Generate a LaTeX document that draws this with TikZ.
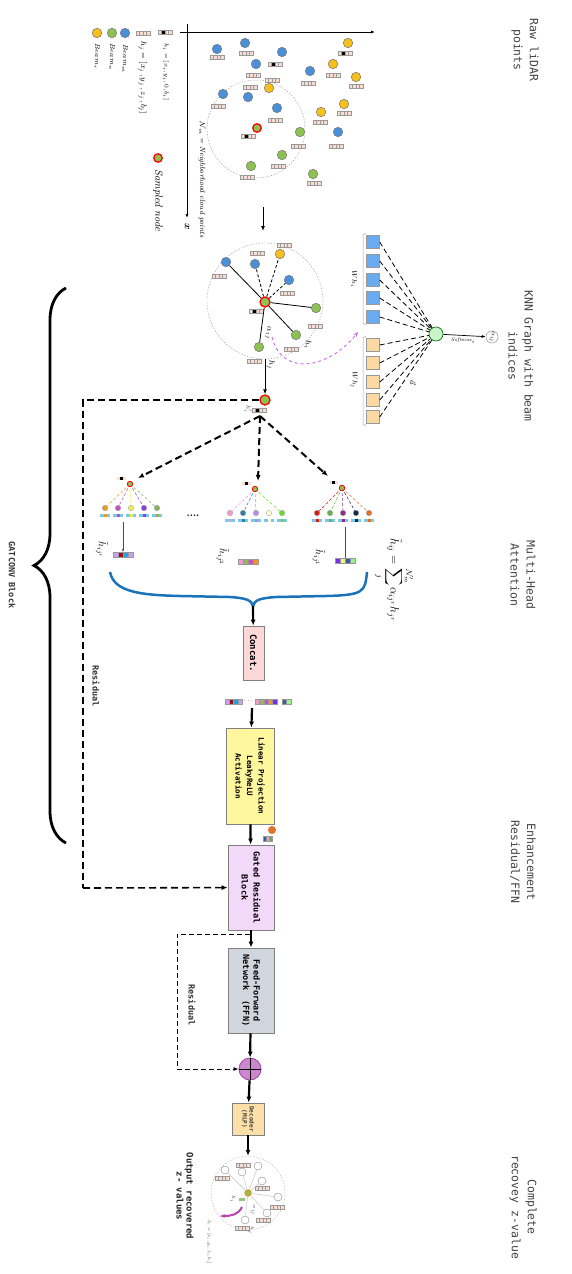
\documentclass[tikz,border=0pt]{standalone}
\usepackage{amsmath}
\usepackage{amssymb}
\usepackage{fontspec}
\newfontfamily\labelfont{DejaVu Sans Mono}
\usetikzlibrary{arrows,arrows.meta,decorations.pathreplacing,calc,positioning}
\definecolor{beamm}{HTML}{4A90D9}
\definecolor{beamn}{HTML}{8DC153}
\definecolor{beamr}{HTML}{F6BF1C}
\definecolor{featpink}{HTML}{F9DDD3}
\definecolor{colblue}{HTML}{6AAAF0}
\definecolor{colorange}{HTML}{FCD9A2}
\definecolor{bracecol}{HTML}{1A72BB}
\definecolor{concatcol}{HTML}{FDD8D8}
\definecolor{linprojcol}{HTML}{FFF79E}
\definecolor{gatedcol}{HTML}{F3D9F9}
\definecolor{ffncol}{HTML}{D1D6DE}
\definecolor{decodcol}{HTML}{FDE0A8}
\definecolor{pluscol}{HTML}{CC88CC}
\definecolor{sidegray}{HTML}{444444}
\definecolor{curvecol}{HTML}{CC66EE}
\definecolor{attcol}{HTML}{C8F5C8}
\definecolor{lav}{HTML}{C9A0F0}
\definecolor{dred}{HTML}{A0101A}
\definecolor{skyb}{HTML}{1FA3E0}
\definecolor{pinkc}{HTML}{F29AD0}
\definecolor{olive}{HTML}{9AB56A}
\definecolor{magc}{HTML}{C94FC9}
\definecolor{orng}{HTML}{F0961F}
\definecolor{viol}{HTML}{7A2CF0}
\definecolor{ylw}{HTML}{F5F07A}
\definecolor{dblue}{HTML}{2C5FA6}
\definecolor{lgreen}{HTML}{9AF08A}
\definecolor{tealc}{HTML}{2A7FA6}
\definecolor{navy}{HTML}{14284A}
\definecolor{redc}{HTML}{D91A1A}
\definecolor{grnc}{HTML}{6DAF4C}
\definecolor{purc}{HTML}{8E2C8E}
\definecolor{orc}{HTML}{E0702A}
\definecolor{yel}{HTML}{EEEE55}
\definecolor{purb}{HTML}{8A3FDB}
\definecolor{olvb}{HTML}{8BAF5A}
\definecolor{orca}{HTML}{E69A1F}
\definecolor{palec}{HTML}{FFFFD0}
\definecolor{lgrb}{HTML}{6CDB2A}
\definecolor{lavb}{HTML}{B98CEB}
\tikzset{
  pt/.style={circle,draw=black!55,line width=0.5pt,inner sep=0pt,minimum size=9.5pt},
  sampled/.style={circle,draw=red,fill=beamn,line width=1.3pt,inner sep=0pt,minimum size=8.5pt},
  blockbox/.style={draw=black!50,line width=0.8pt,rotate=-90,align=center,inner sep=1pt,font=\labelfont\bfseries},
  sidelabel/.style={rotate=-90,align=center,text=sidegray,font=\labelfont\fontsize{11.5}{16}\selectfont},
  flow/.style={-{Latex[length=6pt,width=5pt]},line width=2.2pt},
  thinflow/.style={-{Latex[length=5pt,width=4pt]},line width=1pt},
  resline/.style={line width=1.6pt,dash pattern=on 7pt off 4pt},
  headarrow/.style={-{Latex[length=6pt,width=5pt]},line width=2pt,dash pattern=on 7pt off 4pt},
  sq/.style={draw=black!40,line width=0.4pt,inner sep=0pt,minimum size=13pt},
  attdash/.style={line width=0.8pt,dash pattern=on 5pt off 3pt},
  tinylab/.style={rotate=-90,font=\fontsize{5}{6}\selectfont,text=black!70},
  smallmath/.style={rotate=-90,font=\fontsize{8}{9}\selectfont},
}
\newcommand{\featbox}[3][featpink]{%
  \fill[featpink] ({#2-7},{#3-2}) rectangle ++(14,4);
  \fill[#1] ({#2-3.5},{#3-2}) rectangle ++(3.5,4);
  \foreach \k in {0,...,3}{\draw[black!40,line width=0.3pt] ({#2-7+3.5*\k},{#3-2}) rectangle ++(3.5,4);}
}
\newcommand{\colvec}[4]{%
  \foreach \c [count=\k from 0] in {#4}{\draw[black!40,line width=0.25pt,fill=\c] ({#1+#3*\k},{#2-2.5}) rectangle ++(#3,5);}
}
\newcommand{\headtree}[6]{%
  \foreach \c [count=\k from 0] in {#6}{
    \draw[\c,densely dashed,line width=0.5pt] (#2,#3) -- ({#4+13*\k},#5);
    \node[circle,fill=\c,draw=black!40,line width=0.3pt,inner sep=0pt,minimum size=5.5pt] (#1c\k) at ({#4+13*\k},#5) {};
    \fill[skyb!60] ({#4+13*\k-5},{#5+6}) rectangle ++(10,3);
    \fill[\c] ({#4+13*\k-1.5},{#5+6}) rectangle ++(3,3);
  }
  \node[circle,fill=beamn,draw=red,line width=0.8pt,inner sep=0pt,minimum size=5.5pt] (#1) at (#2,#3) {};
  \fill[featpink] ({#2-13},{#3-7}) rectangle ++(9,3);
  \fill[black] ({#2-10},{#3-7}) rectangle ++(3,3);
}

\begin{document}
\begin{tikzpicture}[x=1pt,y=-1pt]
\useasboundingbox (0,0) rectangle (572,1274);
\fill[white] (0,0) rectangle (572,1274);

\node[sidelabel] (rawlab) at (525,50) {Raw liDAR\\points};
\node[sidelabel] (knnlab) at (521,356) {KNN Graph with beam\\indices};
\node[sidelabel] (mhalab) at (523,575) {Multi-Head\\Attention};
\node[sidelabel] (enhlab) at (523,862) {Enhancement\\Residual/FFN};
\node[sidelabel] (complab) at (523,1207) {Complete\\recovey z-value};

\draw[-{Latex[length=4pt]},line width=0.8pt] (180,32) -- (375,32);
\draw[-{Latex[length=4pt]},line width=0.8pt] (187,24) -- (187,218);
\node[rotate=-90] (xlab) at (187,227) {$\boldsymbol{x}$};

\featbox[black]{165}{32}
\node[rotate=-90,anchor=west,font=\fontsize{6.5}{8}\selectfont] (hilab) at (166,40) {$h_i=[x_i,y_i,0,b_i]$};
\featbox{143}{33}
\node[rotate=-90,anchor=west,font=\fontsize{8.5}{10}\selectfont] (hjlab) at (143,38) {$h_j = [x_j\,, y_j\,, z_j\,, b_j]$};
\node[pt,fill=beamm] (lm) at (125,33) {};
\node[pt,fill=beamn] (ln) at (112,33) {};
\node[pt,fill=beamr] (lr) at (97,33) {};
\node[rotate=-90,anchor=west,font=\fontsize{7.5}{9}\selectfont] (lmlab) at (125,41) {$Beam_m$};
\node[rotate=-90,anchor=west,font=\fontsize{7.5}{9}\selectfont] (lnlab) at (112,40) {$Beam_n$};
\node[rotate=-90,anchor=west,font=\fontsize{7.5}{9}\selectfont] (lrlab) at (97,40) {$Beam_r$};
\node[sampled] (ls) at (158,158) {};
\node[rotate=-90,anchor=west,font=\itshape\fontsize{10.5}{12}\selectfont] (lslab) at (158,166) {Sampled node};
\node[rotate=-90,anchor=west,font=\itshape\fontsize{7.5}{9}\selectfont] (nbrlab) at (202,118) {$\mathcal{N}_m$ = Neighborhood cloud points};

\node[circle,draw=black!40,dash pattern=on 1.5pt off 1.5pt,minimum size=98pt,inner sep=0pt] (nbr) at (256,129) {};
\foreach \x/\y in {217/57,246/53,253/75,250/87,272/80,308/83,333/75,356/86,218/106,275/120,320/122,344/113,298/146,336/146,278/166,247/177,314/183}
  {\featbox{\x}{\y}}
\foreach \x/\y in {275/64,345/53,248/136}
  {\featbox[black]{\x}{\y}}
\foreach \x/\y [count=\k] in {217/49,245/43,282/52,256/64,310/71,223/94,248/97,277/108,338/132}
  {\node[pt,fill=beamm] (pm\k) at (\x,\y) {};}
\foreach \x/\y [count=\k] in {348/43,333/64,356/77,269/88,344/104,321/112}
  {\node[pt,fill=beamr] (pr\k) at (\x,\y) {};}
\foreach \x/\y [count=\k] in {300/132,282/155,251/166,313/174}
  {\node[pt,fill=beamn] (pn\k) at (\x,\y) {};}
\node[sampled] (ps) at (257,128) {};

\coordinate (rawout) at (263,207);
\coordinate (knnin) at (263,231);
\draw[thinflow] (rawout) -- (knnin);

\node[circle,draw=black!40,dash pattern=on 1.5pt off 1.5pt,minimum size=116pt,inner sep=0pt] (knn) at (265,301) {};
\foreach \x/\y in {219/276,257/253,284/245,287/293,315/326,291/349,254/361}
  {\featbox{\x}{\y}}
\featbox[black]{256}{311}
\node[pt,fill=beamm] (k1) at (226,262) {};
\node[pt,fill=beamm] (k2) at (255,264) {};
\node[pt,fill=beamr] (k3) at (280,254) {};
\node[pt,fill=beamm] (k4) at (289,280) {};
\node[pt,fill=beamn] (k5) at (316,308) {};
\node[pt,fill=beamn] (k6) at (296,335) {};
\node[pt,fill=beamn] (k7) at (259,347) {};
\node[sampled,minimum size=10pt] (kc) at (265,302) {};
\foreach \k in {1,5,6,7} \draw[line width=0.8pt] (kc) -- (k\k);
\foreach \k in {2,3,4} \draw[line width=0.8pt,densely dashed] (kc) -- (k\k);
\node[smallmath] (aijlab) at (268,333) {$\alpha_{ij}$};
\node[smallmath] (hilab2) at (308,345) {$h_i$};
\node[smallmath] (hjlab2) at (271,365) {$h_j$};

\node[circle,draw=black!60!green,fill=attcol,line width=0.6pt,inner sep=0pt,minimum size=14pt] (att) at (436,334) {};
\foreach \y [count=\k] in {242,261,280,298,317}
  {\node[sq,fill=colblue] (wi\k) at (373,\y) {};
   \draw[attdash] (wi\k.east) -- (att);}
\foreach \y [count=\k] in {345,363,382,400,417}
  {\node[sq,fill=colorange] (wj\k) at (373,\y) {};
   \draw[attdash] (wj\k.east) -- (att);}
\draw[black!35,line width=0.5pt] (366,233) -- (363,235) -- (363,323) -- (366,325);
\draw[black!35,line width=0.5pt] (366,336) -- (363,338) -- (363,424) -- (366,426);
\node[smallmath,font=\fontsize{7}{8}\selectfont] (whilab) at (354,279) {$Wh_i$};
\node[smallmath,font=\fontsize{7}{8}\selectfont] (whjlab) at (354,380) {$Wh_j$};
\node[smallmath] (avec) at (413,383) {$\vec{a}$};
\node[circle,draw=black!50,fill=white,inner sep=0pt,minimum size=12pt,rotate=-90,font=\fontsize{6}{7}\selectfont] (alpha) at (492,337) {$\alpha_{ij}$};
\draw[-{Latex[length=4pt]},line width=0.7pt] (att) -- (alpha);
\node[font=\fontsize{5}{6}\selectfont\itshape] (softlab) at (463,341) {Softmax$_i$};

\coordinate (curvein) at (272,337);
\coordinate (attin) at (358,332);
\draw[curvecol,dashed,line width=0.9pt,-{Stealth[length=5pt]}] (curvein) .. controls (282,378) and (330,368) .. (attin);

\node[sampled,minimum size=10pt] (hi2) at (265,400) {};
\draw[thinflow] (knn) -- (hi2);
\featbox[black]{259}{410}
\node[tinylab,font=\fontsize{6}{7}\selectfont] (hi2lab) at (248,409) {$h_i'$};

\coordinate (rescorner) at (83,888);
\draw[resline] (hi2.west) -| (rescorner);

\coordinate (hsrc) at (260,416);
\headtree{ta}{130}{484}{105}{508}{orca,magc,yel,purb,olvb}
\headtree{tb}{255}{489}{230}{513}{pinkc,tealc,lavb,palec,lgrb}
\headtree{tc}{342}{488}{317}{513}{redc,grnc,purc,navy,orc}
\draw[headarrow] (hsrc) -- ($(ta)+(8,-6)$);
\draw[headarrow] (hsrc) -- ($(tb)+(3,-8)$);
\draw[headarrow] (hsrc) -- ($(tc)+(-14,-12)$);
\node[font=\bfseries] (dots) at (193,516) {....};

\coordinate (aggA) at (123,552);
\coordinate (aggC) at (345,561);
\draw[-{Latex[length=3pt]},black!70,line width=0.5pt] (123,522) -- (aggA);
\draw[-{Latex[length=3pt]},black!70,line width=0.5pt] (345,527) -- (aggC);
\colvec{113}{555}{5}{lav,dred,skyb,lav}
\colvec{238}{562}{5}{pinkc,olive,magc,orng}
\colvec{335}{561}{5}{viol,ylw,dblue,lgreen}
\node[smallmath,font=\fontsize{10}{11}\selectfont] (hrlab) at (102,550) {$\tilde{h}_{ij^r}$};
\node[smallmath,font=\fontsize{10}{11}\selectfont] (h2lab) at (223,557) {$\tilde{h}_{ij^2}$};
\node[smallmath,font=\fontsize{10}{11}\selectfont] (h1lab) at (319,558) {$\tilde{h}_{ij^1}$};

\coordinate (bcusp) at (253,606);
\draw[bracecol,line width=2.5pt] (110,572) .. controls (114,592) and (140,595) .. (180,596) -- (230,597) .. controls (245,598) and (252,600) .. (bcusp) .. controls (254,600) and (261,598) .. (276,597) -- (326,596) .. controls (364,595) and (365,592) .. (367,572);
\node[rotate=-90,font=\fontsize{12}{14}\selectfont] (formula) at (394,580) {$\displaystyle\tilde{h}_{ij} = \sum_{j}^{\mathcal{N}'_m} \alpha_{ij^r} h_{j^r}$};

\node[blockbox,fill=concatcol,minimum width=54pt,minimum height=21pt,font=\labelfont\bfseries\fontsize{9}{10}\selectfont] (concat) at (253.5,653) {Concat.};
\draw[flow] (bcusp) -- (concat);
\coordinate (cvec) at (252,702);
\colvec{225}{702}{4.3}{lav,dred,skyb,lav}
\node[font=\fontsize{6}{6}\selectfont] (cdots) at (249,701) {$\cdots$};
\colvec{255}{702}{4.4}{pinkc,olive,magc,orng,viol}
\colvec{282}{702}{4.5}{dblue,lgreen}
\node[blockbox,fill=linprojcol,minimum width=96pt,minimum height=48pt,font=\labelfont\bfseries\fontsize{7.5}{11.5}\selectfont] (linproj) at (250,776) {Linear Projection\\LeakyReLU\\Activation};
\draw[flow] ($(cvec)+(0,6)$) -- (linproj);
\node[blockbox,fill=gatedcol,minimum width=85pt,minimum height=46pt,font=\labelfont\bfseries\fontsize{8.5}{12}\selectfont] (gated) at (251,887.5) {Gated Residual\\Block};
\draw[flow] (linproj) -- (gated);
\node[circle,fill=orc,inner sep=0pt,minimum size=8pt] (odot) at (272,830) {};
\colvec{263}{839}{3}{dblue,pinkc,grnc}
\draw[resline,-{Latex[length=6pt,width=5pt]}] (rescorner) -- (gated);
\node[rotate=-90,font=\labelfont\bfseries\fontsize{8.5}{10}\selectfont,text=black!80] (res1lab) at (96,686) {Residual};

\node[blockbox,fill=ffncol,minimum width=85pt,minimum height=46pt,font=\labelfont\bfseries\fontsize{8.5}{10.5}\selectfont] (ffn) at (251,990.5) {Feed-Forward\\Network\ \ (FFN)};
\draw[flow] (gated) -- (ffn);
\node[circle,draw=magc!80!black,fill=pluscol,line width=0.8pt,inner sep=0pt,minimum size=22pt] (plus) at (250,1069) {};
\draw[line width=0.8pt] (plus.north) -- (plus.south);
\draw[line width=0.8pt] (plus.west) -- (plus.east);
\draw[flow] (ffn) -- (plus);
\coordinate (r2s) at (250,934);
\coordinate (r2c) at (177,1069);
\draw[line width=1pt,dash pattern=on 5pt off 3pt,-{Latex[length=5pt,width=4pt]}] (r2s) -| (r2c) -- (plus);
\node[rotate=-90,font=\labelfont\bfseries\fontsize{8.5}{10}\selectfont,text=black!80] (res2lab) at (192,1005) {Residual};

\node[blockbox,fill=decodcol,minimum width=32pt,minimum height=32pt,font=\labelfont\bfseries\fontsize{6}{7}\selectfont,text=black!75] (decoder) at (248,1119) {Decoder\\(MLP)};
\draw[flow] (plus) -- (decoder);

\node[circle,draw=black!30,dash pattern=on 1.5pt off 1.5pt,minimum size=74pt,inner sep=0pt] (outc) at (248,1193) {};
\draw[flow] (decoder) -- (outc);
\foreach \x/\y in {222/1178,243/1165,262/1188,277/1207,263/1220,242/1228}
  {\featbox{\x}{\y}}
\fill[grnc!70] (239,1197.5) rectangle ++(6,3);
\foreach \x/\y [count=\k] in {225/1170,242/1172,258/1166,262/1181,278/1197,267/1213,245/1220}
  {\node[circle,draw=black!45,fill=white,line width=0.4pt,inner sep=0pt,minimum size=8pt] (o\k) at (\x,\y) {};}
\node[circle,fill=beamn,draw=orange,line width=0.7pt,inner sep=0pt,minimum size=6.5pt] (oc) at (248,1193) {};
\foreach \k in {1,...,7} \draw[black!25,line width=0.4pt] (oc) -- (o\k);
\node[tinylab] (oh1) at (233,1199) {$h_i$};
\node[tinylab] (oa) at (253,1210) {$\alpha_{ij}$};
\node[tinylab] (ohj) at (251,1230) {$h_j$};
\node[tinylab,anchor=west,inner sep=0pt,scale=0.7,font=\fontsize{7}{8}\selectfont] (ohlab) at (209,1220) {$h_i = [x_i,y_i,\hat{z}_i,b_i]$};
\coordinate (mstart) at (242,1207);
\coordinate (mend) at (220,1216);
\draw[magc!70!purc,line width=2pt,-{Stealth[length=5pt]}] (mstart) .. controls (238,1215) and (231,1216) .. (mend);
\node[rotate=-90,align=center,font=\labelfont\bfseries\fontsize{9}{10}\selectfont,text=black!85] (outlab) at (185,1196) {Output recovered\\z- values};

\draw[decorate,decoration={brace,amplitude=32pt},line width=2.8pt] (66,843) -- (66,288);
\node[rotate=-90,font=\labelfont\bfseries\fontsize{8.5}{10}\selectfont,text=black!80] (gatlab) at (12,575) {GATCONV Block};
\end{tikzpicture}
\end{document}
